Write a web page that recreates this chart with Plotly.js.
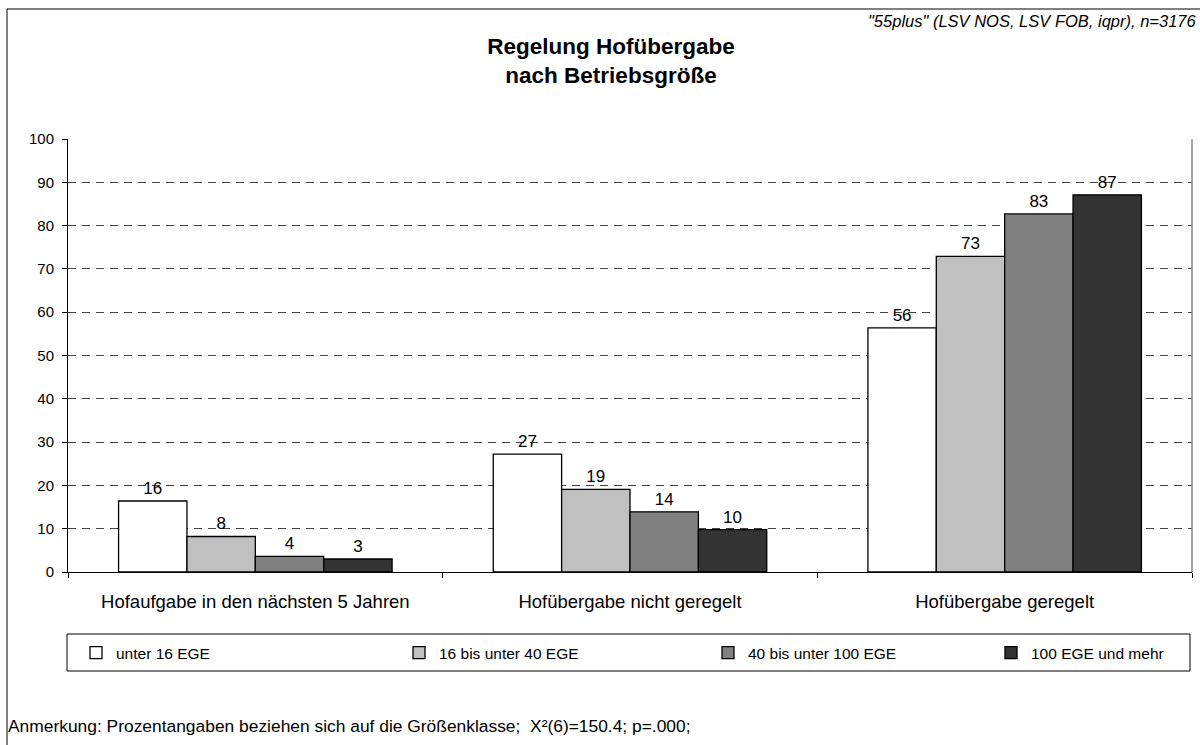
<!DOCTYPE html>
<html>
<head>
<meta charset="utf-8">
<script src="https://cdn.plot.ly/plotly-3.0.1.min.js"></script>
<style>
html,body{margin:0;padding:0;background:#fff;}
#chart{width:1200px;height:745px;}
</style>
</head>
<body>
<div id="chart"></div>
<script>
// Data
const categories = ["Hofaufgabe in den nächsten 5 Jahren", "Hofübergabe nicht geregelt", "Hofübergabe geregelt"];
const seriesNames = ["unter 16 EGE", "16 bis unter 40 EGE", "40 bis unter 100 EGE", "100 EGE und mehr"];
const unter16 = [16.4, 27.2, 56.4];
const bis40 = [8.2, 19.1, 72.9];
const bis100 = [3.6, 13.9, 82.7];
const ab100 = [3.0, 9.8, 87.1];
const seriesValues = [unter16, bis40, bis100, ab100];
const seriesColors = ["#ffffff", "#c0c0c0", "#808080", "#333333"];
const yTicks = [0, 10, 20, 30, 40, 50, 60, 70, 80, 90, 100];

const FONT = "Liberation Sans, Arial, sans-serif";

// Pixel helpers (plot area: x 68..1192, y 139..572)
const L = 68, R = 1192, T = 139, B = 572;
const px = x => (x - L) / (R - L);
const py = y => (B - y) / (B - T);

const legendIds = ["legend", "legend2", "legend3", "legend4"];
const legendTextX = [110, 433, 742, 1025];

const traces = seriesValues.map((vals, i) => ({
  type: "bar",
  name: seriesNames[i],
  legend: legendIds[i],
  x: categories,
  y: vals,
  marker: {color: seriesColors[i], line: {color: "#000", width: 1.3}},
  texttemplate: "%{y:.0f}",
  textposition: "outside",
  cliponaxis: false,
  textfont: {family: FONT, size: 17, color: "#000"},
  hoverinfo: "skip"
}));

const layout = {
  width: 1200,
  height: 745,
  margin: {l: L, r: 1200 - R, t: T, b: 745 - B},
  paper_bgcolor: "#fff",
  plot_bgcolor: "#fff",
  font: {family: FONT, color: "#000"},
  title: {
    text: "<b>Regelung Hofübergabe<br>nach Betriebsgröße</b>",
    font: {family: FONT, size: 22.5, color: "#000"},
    xref: "container", yref: "container",
    x: 611 / 1200, xanchor: "center",
    y: 1 - 54 / 745, yanchor: "top"
  },
  bargap: 0.27,
  bargroupgap: 0,
  showlegend: true,
  xaxis: {
    type: "category",
    showline: true, linecolor: "#000", linewidth: 1,
    ticks: "outside", tickson: "boundaries", ticklen: 5, tickcolor: "#000",
    tickfont: {family: FONT, size: 18.5, color: "#000"},
    ticklabelstandoff: 13,
    showgrid: false,
    zeroline: false
  },
  yaxis: {
    range: [0, 100],
    tickvals: yTicks,
    ticktext: yTicks.map(String),
    showline: true, linecolor: "#000", linewidth: 1,
    ticks: "outside", ticklen: 5, tickcolor: "#000",
    tickfont: {family: FONT, size: 15, color: "#000"},
    ticklabelstandoff: 5,
    showgrid: true, gridcolor: "#444", gridwidth: 1, griddash: "8px,6px",
    zeroline: false,
    fixedrange: true
  },
  shapes: [
    // outer frame (left and top)
    {type: "line", xref: "paper", yref: "paper", x0: px(7), x1: px(7), y0: py(745), y1: py(9), line: {color: "#000", width: 1}},
    {type: "line", xref: "paper", yref: "paper", x0: px(7), x1: px(1201), y0: py(9), y1: py(9), line: {color: "#000", width: 1}},
    // plot area right border
    {type: "line", xref: "paper", yref: "paper", x0: 1, x1: 1, y0: 0, y1: 1, line: {color: "#888", width: 1.5}},
    // legend box
    {type: "rect", xref: "paper", yref: "paper", x0: px(67), x1: px(1190), y0: py(671), y1: py(634), line: {color: "#000", width: 1}, fillcolor: "rgba(0,0,0,0)", layer: "below"}
  ],
  annotations: [
    {text: "<i>\"55plus\" (LSV NOS, LSV FOB, iqpr), n=3176</i>", xref: "paper", yref: "paper",
     x: px(1198), xanchor: "right", y: py(21), yanchor: "middle", showarrow: false,
     font: {family: FONT, size: 16.5, color: "#000"}},
    {text: "Anmerkung: Prozentangaben beziehen sich auf die Größenklasse;  X²(6)=150.4; p=.000;", xref: "paper", yref: "paper",
     x: px(6), xanchor: "left", y: py(726), yanchor: "middle", showarrow: false,
     font: {family: FONT, size: 17.4, color: "#000"}}
  ]
};

legendIds.forEach((id, i) => {
  layout[id] = {
    orientation: "h",
    x: px(legendTextX[i] - 34), xanchor: "left",
    y: py(653), yanchor: "middle",
    font: {family: FONT, size: 15.5, color: "#000"},
    bgcolor: "rgba(0,0,0,0)",
    borderwidth: 0
  };
});

Plotly.newPlot("chart", traces, layout, {displayModeBar: false, staticPlot: true});
</script>
</body>
</html>
